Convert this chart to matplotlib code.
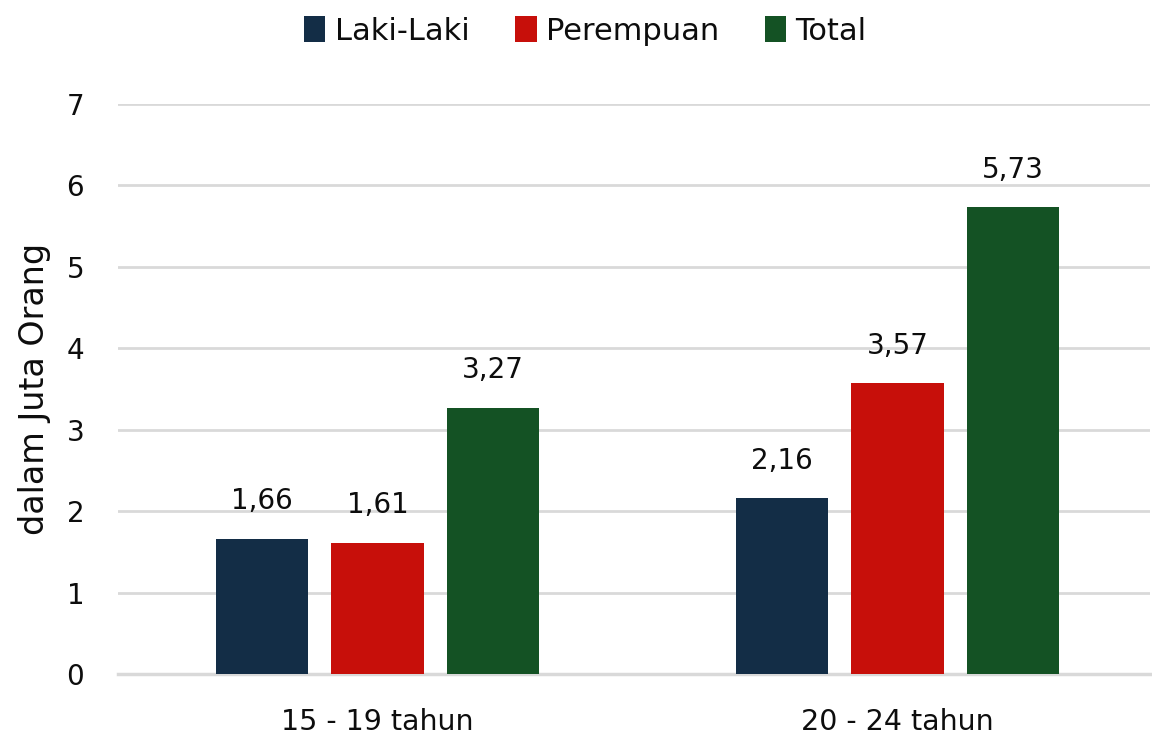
import matplotlib
matplotlib.use("Agg")
import matplotlib.pyplot as plt
import numpy as np

categories = ["15 - 19 tahun", "20 - 24 tahun"]
series_names = ["Laki-Laki", "Perempuan", "Total"]
laki = [1.66, 2.16]
perempuan = [1.61, 3.57]
total = [3.27, 5.73]
colors = ["#132D46", "#C70F0A", "#145224"]
yticks = [0, 1, 2, 3, 4, 5, 6, 7]

plt.rcParams['font.family'] = ['DejaVu Sans']
txt = "#0d0d0d"
fig = plt.figure(figsize=(11.52, 7.36), dpi=100)
ax = fig.add_axes([0.102, 0.084, 0.896, 0.775])

x = np.arange(len(categories))
w = 0.177
off = 0.222
for i, (vals, name, c) in enumerate(zip([laki, perempuan, total], series_names, colors)):
    pos = x + (i - 1) * off
    ax.bar(pos, vals, width=w, color=c, label=name, zorder=3)
    for p, v in zip(pos, vals):
        ax.text(p, v + 0.29, f"{v:.2f}".replace(".", ","), ha="center", va="bottom",
                fontsize=20, color=txt)

ax.set_xlim(-0.5, 1.485)
ax.set_ylim(0, 7)
ax.set_yticks(yticks)
ax.set_yticklabels([str(t) for t in yticks], fontsize=20, color=txt)
ax.set_xticks(x)
ax.set_xticklabels(categories, fontsize=20.5, color=txt)
ax.tick_params(axis="y", length=0, pad=24)
ax.tick_params(axis="x", length=0, pad=24)
ax.yaxis.grid(True, color="#D9D9D9", linewidth=2, zorder=0)
ax.axhline(0, color="#D9D9D9", linewidth=2.5, zorder=2, clip_on=False)
for s in ax.spines.values():
    s.set_visible(False)
ax.set_ylabel("dalam Juta Orang", fontsize=24, color=txt, labelpad=11)

fig.legend(loc="upper center", bbox_to_anchor=(0.508, 1.015), ncol=3, frameon=False,
           fontsize=22, handlelength=0.7, handleheight=0.9, handletextpad=0.3,
           columnspacing=1.5, labelcolor=txt)

fig.savefig("out.png", dpi=100)
